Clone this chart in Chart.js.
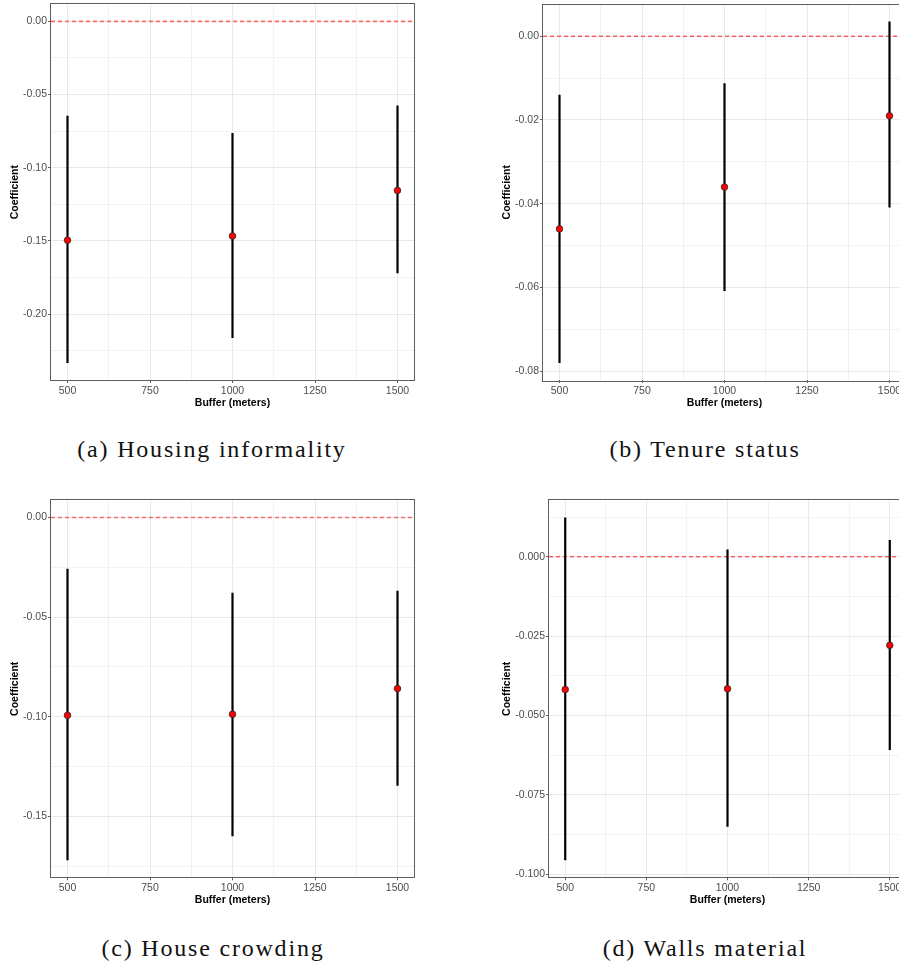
<!DOCTYPE html>
<html lang="en">
<head>
  <meta charset="UTF-8">
  <title>Buffer coefficients</title>
  <script src="https://cdn.jsdelivr.net/npm/chart.js"></script>
  <style>
    body {
      margin: 0;
      width: 899px;
      height: 967px;
      overflow: hidden;
      background: #ffffff;
      position: relative;
    }
    canvas {
      position: absolute;
    }
    .caption {
      position: absolute;
      width: 400px;
      text-align: center;
      font-family: "Liberation Serif", "Times New Roman", serif;
      font-size: 24px;
      line-height: 24px;
      letter-spacing: 1.8px;
      color: #111111;
      white-space: nowrap;
    }
  </style>
</head>
<body>
  <canvas id="panelA" width="430" height="420" style="left:0px; top:0px;"></canvas>
  <canvas id="panelB" width="450" height="420" style="left:480px; top:0px;"></canvas>
  <canvas id="panelC" width="430" height="420" style="left:0px; top:496px;"></canvas>
  <canvas id="panelD" width="450" height="420" style="left:480px; top:496px;"></canvas>

  <div class="caption" style="left:12px; top:437px;">(a) Housing informality</div>
  <div class="caption" style="left:505px; top:437px;">(b) Tenure status</div>
  <div class="caption" style="left:13px; top:936px;">(c) House crowding</div>
  <div class="caption" style="left:505px; top:936px;">(d) Walls material</div>

  <script>
    // data
    const buffers = [500, 1000, 1500];
    const xTickValues = [500, 750, 1000, 1250, 1500];
    const xTickLabels = ["500", "750", "1000", "1250", "1500"];

    const informalityEst = [-0.1495, -0.1466, -0.1155];
    const informalityLow = [-0.2333, -0.2162, -0.1721];
    const informalityHigh = [-0.0644, -0.0762, -0.0575];
    const informalityTicks = [0, -0.05, -0.10, -0.15, -0.20];
    const informalityTickLabels = ["0.00", "-0.05", "-0.10", "-0.15", "-0.20"];

    const tenureEst = [-0.0460, -0.0360, -0.0190];
    const tenureLow = [-0.0780, -0.0608, -0.0409];
    const tenureHigh = [-0.0140, -0.0112, 0.0035];
    const tenureTicks = [0, -0.02, -0.04, -0.06, -0.08];
    const tenureTickLabels = ["0.00", "-0.02", "-0.04", "-0.06", "-0.08"];

    const crowdingEst = [-0.0993, -0.0988, -0.0859];
    const crowdingLow = [-0.1720, -0.1600, -0.1346];
    const crowdingHigh = [-0.0258, -0.0378, -0.0368];
    const crowdingTicks = [0, -0.05, -0.10, -0.15];
    const crowdingTickLabels = ["0.00", "-0.05", "-0.10", "-0.15"];

    const wallsEst = [-0.0418, -0.0416, -0.0279];
    const wallsLow = [-0.0956, -0.0851, -0.0609];
    const wallsHigh = [0.0124, 0.0023, 0.0053];
    const wallsTicks = [0, -0.025, -0.050, -0.075, -0.100];
    const wallsTickLabels = ["0.000", "-0.025", "-0.050", "-0.075", "-0.100"];

    Chart.defaults.font.family = "'Liberation Sans', Arial, sans-serif";

    // panel border drawn on top like ggplot theme_bw
    const panelBorder = {
      id: "panelBorder",
      afterDraw(chart) {
        const a = chart.chartArea;
        const ctx = chart.ctx;
        ctx.save();
        ctx.strokeStyle = "#5e5e5e";
        ctx.lineWidth = 1;
        ctx.strokeRect(Math.round(a.left) - 0.5, Math.round(a.top) - 0.5,
          Math.round(a.right - a.left) + 1, Math.round(a.bottom - a.top) + 1);
        ctx.restore();
      }
    };

    function isMajor(v, majors) {
      return majors.some(m => Math.abs(m - v) < 1e-9);
    }

    // majors plus the half-way minor breaks inside the range
    function withMinor(majors, min, max) {
      const step = Math.abs(majors[1] - majors[0]);
      const all = [];
      majors.forEach(m => { all.push(m, m - step / 2, m + step / 2); });
      const seen = {};
      return all
        .filter(v => v >= min && v <= max)
        .filter(v => {
          const k = Math.round(v * 1e6);
          if (seen[k]) return false;
          seen[k] = true;
          return true;
        })
        .sort((p, q) => p - q);
    }

    function labelFor(v, majors, labels) {
      const i = majors.findIndex(m => Math.abs(m - v) < 1e-9);
      return i >= 0 ? labels[i] : "";
    }

    function makePanel(id, est, low, high, yTicks, yLabels, cfg) {
      const xPad = (buffers[buffers.length - 1] - buffers[0]) * 0.05;
      const xMin = buffers[0] - xPad;
      const xMax = buffers[buffers.length - 1] + xPad;
      const yLo = Math.min(...low);
      const yHi = Math.max(0, ...high);
      const yPad = (yHi - yLo) * 0.05;
      const yMin = yLo - yPad;
      const yMax = yHi + yPad;

      const datasets = [];
      datasets.push({
        data: buffers.map((b, i) => ({ x: b, y: est[i] })),
        showLine: false,
        pointRadius: 3.3,
        pointBackgroundColor: "#ff0000",
        pointBorderColor: "#2a2a2a",
        pointBorderWidth: 0.8,
        order: 0
      });
      buffers.forEach((b, i) => {
        datasets.push({
          data: [{ x: b, y: low[i] }, { x: b, y: high[i] }],
          showLine: true,
          borderColor: "#000000",
          borderWidth: 2.2,
          pointRadius: 0,
          order: 1
        });
      });
      datasets.push({
        data: [{ x: xMin, y: 0 }, { x: xMax, y: 0 }],
        showLine: true,
        borderColor: cfg.zeroColor,
        borderWidth: cfg.zeroWidth,
        borderDash: [4, 3],
        pointRadius: 0,
        order: 2
      });

      const xAll = withMinor(xTickValues, xMin, xMax);
      const yAll = withMinor(yTicks, yMin, yMax);

      new Chart(document.getElementById(id), {
        type: "scatter",
        data: { datasets: datasets },
        plugins: [panelBorder],
        options: {
          responsive: false,
          animation: false,
          layout: {
            autoPadding: false,
            padding: { left: 0, top: cfg.top, right: cfg.right, bottom: cfg.bottom }
          },
          plugins: {
            legend: { display: false },
            tooltip: { enabled: false }
          },
          scales: {
            x: {
              type: "linear",
              min: xMin,
              max: xMax,
              afterBuildTicks: s => { s.ticks = xAll.map(v => ({ value: v })); },
              afterFit: s => { s.height = 30; s.paddingLeft = 0; s.paddingRight = 0; },
              border: { display: false },
              grid: {
                color: c => isMajor(c.tick.value, xTickValues) ? "#e8e8e8" : "#f2f2f2",
                lineWidth: 1,
                tickLength: 3,
                tickColor: c => isMajor(c.tick.value, xTickValues) ? "#5e5e5e" : "rgba(0,0,0,0)"
              },
              ticks: {
                autoSkip: false,
                maxRotation: 0,
                padding: 1.4,
                color: "#4d4d4d",
                font: { size: 10.5 },
                callback: v => labelFor(v, xTickValues, xTickLabels)
              },
              title: {
                display: true,
                text: "Buffer (meters)",
                color: "#000000",
                font: { size: 10.5, weight: "bold" },
                padding: { top: 0, bottom: 0.7 }
              }
            },
            y: {
              type: "linear",
              min: yMin,
              max: yMax,
              afterBuildTicks: s => { s.ticks = yAll.map(v => ({ value: v })); },
              afterFit: s => { s.width = cfg.yWidth; s.paddingTop = 0; s.paddingBottom = 0; },
              border: { display: false },
              grid: {
                color: c => isMajor(c.tick.value, yTicks) ? "#e8e8e8" : "#f2f2f2",
                lineWidth: 1,
                tickLength: 3,
                tickColor: c => isMajor(c.tick.value, yTicks) ? "#5e5e5e" : "rgba(0,0,0,0)"
              },
              ticks: {
                autoSkip: false,
                padding: 1,
                color: "#4d4d4d",
                font: { size: 10.5 },
                callback: v => labelFor(v, yTicks, yLabels)
              },
              title: {
                display: true,
                text: "Coefficient",
                color: "#000000",
                font: { size: 10.5, weight: "bold" },
                padding: { top: cfg.titleGap, bottom: 0 }
              }
            }
          }
        }
      });
    }

    makePanel("panelA", informalityEst, informalityLow, informalityHigh, informalityTicks, informalityTickLabels,
      { top: 4.3, right: 16, bottom: 10, yWidth: 51, titleGap: 8.7, zeroColor: "rgba(255,0,0,0.55)", zeroWidth: 1.6 });
    makePanel("panelB", tenureEst, tenureLow, tenureHigh, tenureTicks, tenureTickLabels,
      { top: 4.5, right: 24, bottom: 10, yWidth: 63, titleGap: 21, zeroColor: "#ff1a1a", zeroWidth: 1 });
    makePanel("panelC", crowdingEst, crowdingLow, crowdingHigh, crowdingTicks, crowdingTickLabels,
      { top: 4.3, right: 16, bottom: 8.7, yWidth: 51, titleGap: 8.7, zeroColor: "rgba(255,0,0,0.55)", zeroWidth: 1.6 });
    makePanel("panelD", wallsEst, wallsLow, wallsHigh, wallsTicks, wallsTickLabels,
      { top: 4.3, right: 24, bottom: 8.7, yWidth: 69, titleGap: 21, zeroColor: "#ff1a1a", zeroWidth: 1 });
  </script>
</body>
</html>
